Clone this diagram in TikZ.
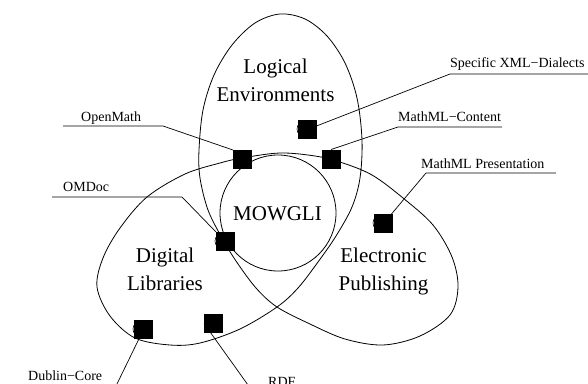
\documentclass[tikz,border=0pt]{standalone}
\usepackage{fontspec}
\setmainfont{Liberation Serif}
\usetikzlibrary{calc}
\begin{document}
\begin{tikzpicture}[x=1pt,y=-1pt,
  outline/.style={line width=0.8pt},
  sq/.style={fill=black, draw=none, minimum size=19pt, inner sep=0pt, outer sep=0pt},
  ghost/.style={circle, draw, line width=0.6pt, minimum size=16pt, inner sep=0pt},
  lbl/.style={font=\fontsize{14}{16}\selectfont, inner sep=0pt, anchor=base west},
  big/.style={font=\fontsize{21}{28}\selectfont, align=center, inner sep=0pt, anchor=base},
  leader/.style={line width=0.7pt}]
\useasboundingbox (0,0) rectangle (588,383);
\clip (0,0) rectangle (588,383);
% trefoil outline (one closed self-crossing curve)
\draw[outline] plot[smooth cycle, tension=0.55] coordinates {
  (280,14) (305,19) (327,36) (345,63) (357,98) (362,140) (360,178) (352,207)
  (336,236) (318,262) (298,288) (277,307) (240,329) (200,343) (170,345)
  (135,338) (110,316) (97,287) (103,258) (120,228) (147,197) (185,174)
  (220,163) (242,158) (280,153) (315,156) (340,162) (372,175) (403,198)
  (433,225) (452,257) (458,287) (450,315) (420,336) (383,345) (345,339)
  (310,324) (277,307) (256,288) (236,261) (222,238) (208,210) (200,178)
  (199,150) (203,110) (214,75) (232,45) (255,23)};
\node[circle, draw, outline, minimum size=116pt, inner sep=0pt] (ring) at (278,213) {};
% big labels (anchor = baseline of last line)
\node[big] (le) at (275.5,101.7) {Logical\\Environments};
\node[big] (dl) at (165,290) {Digital\\Libraries};
\node[big] (ep) at (383.5,290) {Electronic\\Publishing};
\node[font=\fontsize{21}{28}\selectfont, inner sep=0pt, anchor=base] (mw) at (277.5,220) {MOWGLI};
% faint circles behind some squares
\node[ghost] (g1) at (305,129) {};
\node[ghost] (g2) at (381,223) {};
\node[ghost] (g3) at (141,329) {};
\node[ghost] (g4) at (223,241) {};
% squares
\node[sq] (om) at (242.5,159.5) {};
\node[sq] (mc) at (331,159) {};
\node[sq] (sx) at (307.5,129.5) {};
\node[sq] (mp) at (383.5,223.5) {};
\node[sq] (od) at (225.5,241.5) {};
\node[sq] (dc) at (143.5,329.5) {};
\node[sq] (rdf) at (213.5,323.5) {};
% labels with leaders
\node[lbl] (omt) at (81,121) {OpenMath};
\coordinate (om1) at (63,126); \coordinate (om2) at (163,126);
\draw[leader] (om1) -- (om2) -- (om.north west);
\node[lbl] (odt) at (63,191) {OMDoc};
\coordinate (od1) at (52,197); \coordinate (od2) at (182,197);
\draw[leader] (od1) -- (od2) -- (od.north west);
\node[lbl] (sxt) at (450,67) {Specific XML−Dialects};
\coordinate (sx1) at (590,74); \coordinate (sx2) at (450,74);
\draw[leader] (sx1) -- (sx2) -- (sx.center);
\node[lbl] (mct) at (398,121) {MathML−Content};
\coordinate (mc1) at (502,127); \coordinate (mc2) at (398,127);
\draw[leader] (mc1) -- (mc2) -- (mc.north);
\node[lbl] (mpt) at (421,168) {MathML Presentation};
\coordinate (mp1) at (556,173); \coordinate (mp2) at (426,173);
\draw[leader] (mp1) -- (mp2) -- (mp.center);
\node[lbl] (dct) at (28,380) {Dublin−Core};
\coordinate (dc1) at (20,386); \coordinate (dc2) at (116,386);
\draw[leader] (dc1) -- (dc2) -- (dc.center);
\node[lbl] (rdft) at (268,386) {RDF};
\coordinate (rd1) at (310,392); \coordinate (rd2) at (253,392);
\draw[leader] (rd1) -- (rd2) -- (rdf.west);
\end{tikzpicture}
\end{document}
